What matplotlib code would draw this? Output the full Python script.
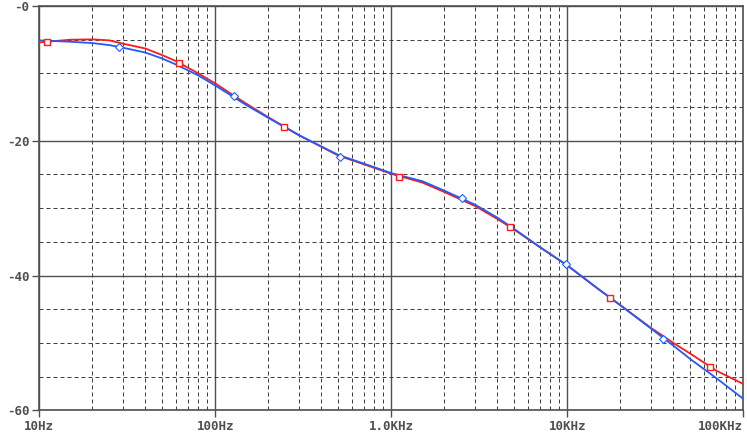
import numpy as np
import matplotlib.pyplot as plt

# frequency axis (Hz) and the two traces (dB)
freq = [10, 15, 20, 25, 30, 40, 50, 60, 80, 100, 150, 200, 300, 500, 700,
        1000, 1500, 2000, 3000, 4000, 5000, 7000, 10000, 15000, 20000,
        30000, 40000, 50000, 70000, 100000]
red_db = [-5.4, -5.0, -4.95, -5.1, -5.6, -6.3, -7.3, -8.2, -10.0, -11.5,
          -14.5, -16.5, -19.2, -22.2, -23.5, -24.9, -26.2, -27.6, -29.7,
          -31.6, -33.2, -35.8, -38.5, -42.0, -44.4, -47.8, -50.0, -51.6,
          -54.1, -56.1]
blue_db = [-5.1, -5.3, -5.5, -5.8, -6.2, -6.9, -7.8, -8.7, -10.3, -11.8,
           -14.7, -16.6, -19.2, -22.1, -23.4, -24.8, -26.0, -27.4, -29.5,
           -31.4, -33.1, -35.8, -38.5, -42.0, -44.4, -47.9, -50.4, -52.4,
           -55.2, -58.3]

# marker positions
red_mk_f = [11.1, 62, 247, 1100, 4700, 17400, 64500]
red_mk_db = [-5.4, -8.5, -18.0, -25.4, -32.85, -43.35, -53.6]
blue_mk_f = [28.4, 128, 510, 2530, 9860, 35000]
blue_mk_db = [-6.1, -13.35, -22.35, -28.55, -38.35, -49.4]

x_ticks = [10, 100, 1000, 10000, 100000]
x_labels = ['10Hz', '100Hz', '1.0KHz', '10KHz', '100KHz']
y_ticks = [0, -20, -40, -60]
y_labels = ['-0', '-20', '-40', '-60']

frame = '#505050'
red = '#ff1a1a'
blue = '#1f5cff'

fig = plt.figure(figsize=(7.47, 4.36), dpi=100)
ax = fig.add_axes([0.0526, 0.0589, 0.9425, 0.9273])

ax.plot(freq, red_db, color=red, lw=1.3, zorder=3)
ax.plot(freq, blue_db, color=blue, lw=1.3, zorder=4)
ax.plot(red_mk_f, red_mk_db, ls='none', marker='s', ms=5, mfc='white',
        mec=red, mew=1.0, zorder=5)
ax.plot(blue_mk_f, blue_mk_db, ls='none', marker='D', ms=4, mfc='white',
        mec=blue, mew=0.8, zorder=5)

ax.set_xscale('log')
ax.set_xlim(10, 100000)
ax.set_ylim(-60, 0)

ax.set_xticks(x_ticks)
ax.set_xticklabels(x_labels)
ax.set_xticks([m * d for d in [10, 100, 1000, 10000] for m in range(2, 10)],
              minor=True)
ax.set_yticks(y_ticks)
ax.set_yticklabels(y_labels)
ax.set_yticks([-5, -10, -15, -25, -30, -35, -45, -50, -55], minor=True)

ax.grid(True, which='major', color=frame, lw=1.0, ls='-')
ax.grid(True, which='minor', color='#404040', lw=0.72, ls=(0, (4, 3)))
ax.set_axisbelow(True)

font = dict(family='DejaVu Sans Mono', weight='bold', size=9)
for lab in ax.get_xticklabels() + ax.get_yticklabels():
    lab.set_fontfamily(font['family'])
    lab.set_fontweight(font['weight'])
    lab.set_fontsize(font['size'])
    lab.set_color(frame)
ax.get_xticklabels()[-1].set_horizontalalignment('right')

ax.tick_params(which='major', length=5, width=1.0, color=frame, pad=2)
ax.tick_params(which='minor', length=0)
for s in ax.spines.values():
    s.set_color(frame)
    s.set_linewidth(1.2)

fig.savefig('out.png', dpi=100)
